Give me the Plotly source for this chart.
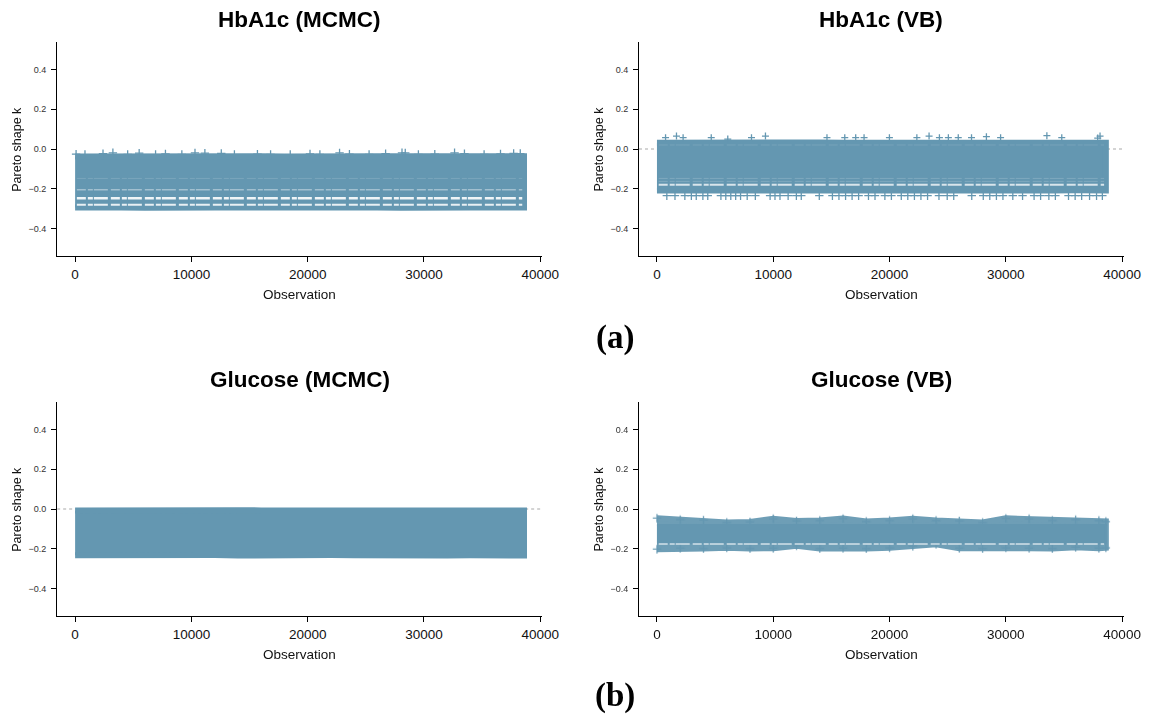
import plotly.graph_objects as go

# ---------------------------------------------------------------------------
# Pareto shape k per observation (PSIS diagnostics), four fits.
# The point clouds are dense (~38.6k observations each), so each cloud is
# described by its upper/lower envelope at a set of observation indices,
# the k levels where the cloud thins out, and the isolated points.
# ---------------------------------------------------------------------------
N_OBS = 38600

edge_obs = [1, 2000, 4000, 6000, 8000, 10000, 12000, 14000, 16000, 18000, 20000,
            22000, 24000, 26000, 28000, 30000, 32000, 34000, 36000, 38000, N_OBS]

# HbA1c (MCMC)
hba_mcmc_top = [-0.038, -0.037, -0.038, -0.036, -0.038, -0.037, -0.036, -0.038, -0.037, -0.038, -0.036,
                -0.037, -0.038, -0.036, -0.037, -0.038, -0.036, -0.037, -0.038, -0.036, -0.037]
hba_mcmc_bottom = [-0.295, -0.297, -0.294, -0.296, -0.295, -0.297, -0.294, -0.295, -0.296, -0.294, -0.295,
                   -0.297, -0.295, -0.294, -0.296, -0.295, -0.297, -0.294, -0.295, -0.296, -0.295]
hba_mcmc_thin_levels = [-0.148, -0.205, -0.248, -0.281]
hba_mcmc_high_obs = [85, 850, 2400, 3250, 4520, 5510, 6920, 7770, 9180, 10310, 11160, 12570,
                     13700, 15680, 16810, 18500, 20200, 21050, 22740, 23590, 25280, 26700,
                     28110, 28390, 29520, 30930, 32630, 33480, 35170, 36580, 37710, 38280]
hba_mcmc_high_k = [-0.026, -0.028, -0.024, -0.019, -0.027, -0.021, -0.028, -0.025, -0.027, -0.020,
                   -0.021, -0.022, -0.028, -0.026, -0.027, -0.028, -0.025, -0.027, -0.020, -0.026,
                   -0.027, -0.024, -0.019, -0.020, -0.027, -0.026, -0.019, -0.024, -0.027, -0.025,
                   -0.022, -0.023]

# HbA1c (VB)
hba_vb_top = [0.032, 0.033, 0.032, 0.031, 0.033, 0.032, 0.032, 0.033, 0.031, 0.032, 0.032,
              0.033, 0.032, 0.031, 0.032, 0.033, 0.032, 0.032, 0.031, 0.033, 0.032]
hba_vb_bottom = [-0.209, -0.210, -0.209, -0.208, -0.210, -0.209, -0.209, -0.210, -0.208, -0.209, -0.209,
                 -0.210, -0.209, -0.208, -0.209, -0.210, -0.209, -0.209, -0.208, -0.210, -0.209]
hba_vb_thin_levels = [0.020, -0.148, -0.163, -0.180]
hba_vb_high_obs = [740, 1680, 2250, 4670, 6090, 8130, 9330, 14620, 16150, 17090, 17810,
                   19990, 22350, 23400, 24290, 25060, 25910, 27050, 28330, 29550, 33530,
                   34810, 37900, 38100]
hba_vb_high_k = [0.057, 0.065, 0.057, 0.057, 0.050, 0.057, 0.065, 0.057, 0.057, 0.057, 0.057,
                 0.057, 0.057, 0.065, 0.057, 0.057, 0.057, 0.057, 0.062, 0.057, 0.067,
                 0.057, 0.055, 0.065]
hba_vb_low_obs = [850, 1550, 2400, 2960, 3380, 3950, 4370, 5500, 5920, 6350, 6770, 7190,
                  7760, 8460, 9730, 10150, 10580, 11280, 11990, 12410, 13960, 15090, 15650,
                  16220, 16780, 17340, 18190, 18750, 19600, 20160, 21010, 21570, 22140,
                  22700, 23270, 24250, 24960, 25520, 27070, 28060, 28620, 29190, 29750,
                  30600, 31440, 32430, 32990, 33700, 34260, 35390, 35960, 36520, 37200,
                  37800, 38300]
hba_vb_low_k = -0.235

# Glucose (MCMC)
glu_mcmc_top = [-0.007, -0.006, -0.008, -0.007, -0.006, -0.007, -0.008, -0.006, -0.007, -0.007, -0.006,
                -0.008, -0.007, -0.006, -0.007, -0.008, -0.007, -0.006, -0.007, -0.008, -0.007]
glu_mcmc_bottom = [-0.233, -0.234, -0.232, -0.233, -0.235, -0.233, -0.232, -0.234, -0.233, -0.233, -0.234,
                   -0.232, -0.233, -0.235, -0.233, -0.232, -0.234, -0.233, -0.235, -0.233, -0.234]

# Glucose (VB)
glu_vb_top = [-0.046, -0.053, -0.056, -0.068, -0.065, -0.049, -0.060, -0.058, -0.048, -0.063, -0.058,
              -0.049, -0.058, -0.060, -0.068, -0.047, -0.049, -0.058, -0.053, -0.058, -0.063]
glu_vb_bottom = [-0.202, -0.197, -0.199, -0.195, -0.199, -0.197, -0.185, -0.199, -0.197, -0.199, -0.195,
                 -0.187, -0.177, -0.197, -0.199, -0.195, -0.197, -0.199, -0.192, -0.197, -0.195]
glu_vb_core = [-0.080, -0.170]
glu_vb_thin_levels = [-0.176]

# Axis ticks
x_ticks = [0, 10000, 20000, 30000, 40000]
y_ticks = [-0.4, -0.2, 0.0, 0.2, 0.4]
y_tick_text = ["\u22120.4", "\u22120.2", "0.0", "0.2", "0.4"]

# ---------------------------------------------------------------------------
POINT = "#6497b1"
FONT = "Liberation Sans, Arial, Helvetica, sans-serif"
W, H = 1161, 715
X_RANGE = [-1543, 40144]
Y_RANGE = [-0.54, 0.54]

# panel boxes in pixels: (left, right, top, bottom)
boxes = {
    1: (58, 550, 41.7, 256.3),
    2: (648.5, 1140.5, 41.7, 256.3),
    3: (58, 550, 401.7, 616.3),
    4: (648.5, 1140.5, 401.7, 616.3),
}
titles = {1: "HbA1c (MCMC)", 2: "HbA1c (VB)", 3: "Glucose (MCMC)", 4: "Glucose (VB)"}
# k = 0 reference line appears only where the k values straddle zero
zero_line = {1: False, 2: True, 3: True, 4: False}

fig = go.Figure()


def axes(i):
    return ("x" if i == 1 else f"x{i}"), ("y" if i == 1 else f"y{i}")


def envelope(i, top, bottom, opacity=1.0, marks_top=False, marks_bottom=False):
    xa, ya = axes(i)
    fig.add_trace(go.Scatter(
        x=edge_obs + edge_obs[::-1], y=top + bottom[::-1],
        mode="lines", fill="toself", fillcolor=POINT,
        line=dict(color=POINT, width=6, shape="linear"),
        opacity=opacity, hoverinfo="skip", xaxis=xa, yaxis=ya))
    xs, ys = [], []
    if marks_top:
        xs += edge_obs
        ys += top
    if marks_bottom:
        xs += edge_obs
        ys += bottom
    if xs:
        fig.add_trace(go.Scatter(
            x=xs, y=ys, mode="markers",
            marker=dict(symbol="cross-thin", size=6, line=dict(color=POINT, width=1.3)),
            opacity=opacity, hoverinfo="skip", xaxis=xa, yaxis=ya))


def band(i, lo, hi):
    xa, ya = axes(i)
    fig.add_trace(go.Scatter(
        x=[edge_obs[0], edge_obs[-1], edge_obs[-1], edge_obs[0]], y=[hi, hi, lo, lo],
        mode="lines", fill="toself", fillcolor=POINT, line=dict(color=POINT, width=2),
        hoverinfo="skip", xaxis=xa, yaxis=ya))


def thin_levels(i, levels, alphas, widths):
    xa, ya = axes(i)
    for lv, a, w in zip(levels, alphas, widths):
        fig.add_trace(go.Scatter(
            x=[edge_obs[0] + 150, edge_obs[-1] - 150], y=[lv, lv], mode="lines",
            line=dict(color=f"rgba(255,255,255,{a})", width=w, dash="9px,2px,5px,1px,14px,3px"),
            hoverinfo="skip", xaxis=xa, yaxis=ya))


def points(i, xs, ys, size=5):
    xa, ya = axes(i)
    fig.add_trace(go.Scatter(
        x=xs, y=ys, mode="markers",
        marker=dict(symbol="cross-thin", size=size, line=dict(color=POINT, width=1.3)),
        hoverinfo="skip", xaxis=xa, yaxis=ya))


# HbA1c (MCMC)
envelope(1, hba_mcmc_top, hba_mcmc_bottom)
thin_levels(1, hba_mcmc_thin_levels, [0.15, 0.4, 0.9, 0.85], [1, 1.5, 2.5, 2])
points(1, hba_mcmc_high_obs, hba_mcmc_high_k, size=6)

# HbA1c (VB)
envelope(2, hba_vb_top, hba_vb_bottom)
thin_levels(2, hba_vb_thin_levels, [0.12, 0.18, 0.18, 0.75], [1, 1, 1, 2])
points(2, hba_vb_high_obs, hba_vb_high_k)
points(2, hba_vb_low_obs, [hba_vb_low_k] * len(hba_vb_low_obs), size=6)

# Glucose (MCMC)
envelope(3, glu_mcmc_top, glu_mcmc_bottom)

# Glucose (VB)
envelope(4, glu_vb_top, glu_vb_bottom, opacity=0.93, marks_top=True, marks_bottom=True)
band(4, glu_vb_core[1], glu_vb_core[0])
thin_levels(4, glu_vb_thin_levels, [0.7], [1.5])

layout = dict(
    width=W, height=H, margin=dict(l=0, r=0, t=0, b=0),
    paper_bgcolor="white", plot_bgcolor="white", showlegend=False,
    font=dict(family=FONT, color="#111111"),
)

annotations = []
shapes = []
for i, (l, r, t, b) in boxes.items():
    xa, ya = axes(i)
    xkey = "xaxis" if i == 1 else f"xaxis{i}"
    ykey = "yaxis" if i == 1 else f"yaxis{i}"
    layout[xkey] = dict(
        domain=[l / W, r / W], range=X_RANGE, anchor=ya,
        tickvals=x_ticks, ticktext=[str(v) for v in x_ticks],
        ticks="outside", ticklen=5, tickwidth=1, tickcolor="black",
        showline=True, linecolor="black", linewidth=1,
        showgrid=False, zeroline=False, tickfont=dict(size=13.5, color="#111111"),
    )
    layout[ykey] = dict(
        domain=[1 - b / H, 1 - t / H], range=Y_RANGE, anchor=xa,
        tickvals=y_ticks, ticktext=y_tick_text,
        ticks="outside", ticklen=5, tickwidth=1, tickcolor="black",
        showline=True, linecolor="black", linewidth=1,
        showgrid=False, zeroline=False, tickfont=dict(size=9, color="#333333"),
        ticklabelstandoff=3,
    )
    if zero_line[i]:
        shapes.append(dict(type="line", xref=xa, yref=ya, x0=X_RANGE[0], x1=X_RANGE[1], y0=0, y1=0,
                           line=dict(color="#a9a9a9", width=1, dash="dot"), layer="below"))
    cx = (l + r) / 2
    annotations.append(dict(text=f"<b>{titles[i]}</b>", x=cx / W, y=1 - (t - 22) / H,
                            xref="paper", yref="paper", showarrow=False,
                            xanchor="center", yanchor="middle",
                            font=dict(size=22.5, family=FONT, color="black")))
    annotations.append(dict(text="Observation", x=cx / W, y=1 - (b + 38) / H,
                            xref="paper", yref="paper", showarrow=False,
                            xanchor="center", yanchor="middle",
                            font=dict(size=13.5, family=FONT, color="#111111")))
    annotations.append(dict(text="Pareto shape k", x=(l - 41) / W, y=1 - ((t + b) / 2) / H,
                            xref="paper", yref="paper", showarrow=False, textangle=-90,
                            xanchor="center", yanchor="middle",
                            font=dict(size=12.5, family=FONT, color="#111111")))

for label, yc in (("(a)", 338), ("(b)", 695)):
    annotations.append(dict(text=f"<b>{label}</b>", x=624 / W, y=1 - yc / H,
                            xref="paper", yref="paper", showarrow=False,
                            xanchor="center", yanchor="middle",
                            font=dict(size=33, family="Liberation Serif, Times New Roman, serif",
                                      color="black")))

layout["annotations"] = annotations
layout["shapes"] = shapes
fig.update_layout(**layout)

fig.write_html("out.html")
